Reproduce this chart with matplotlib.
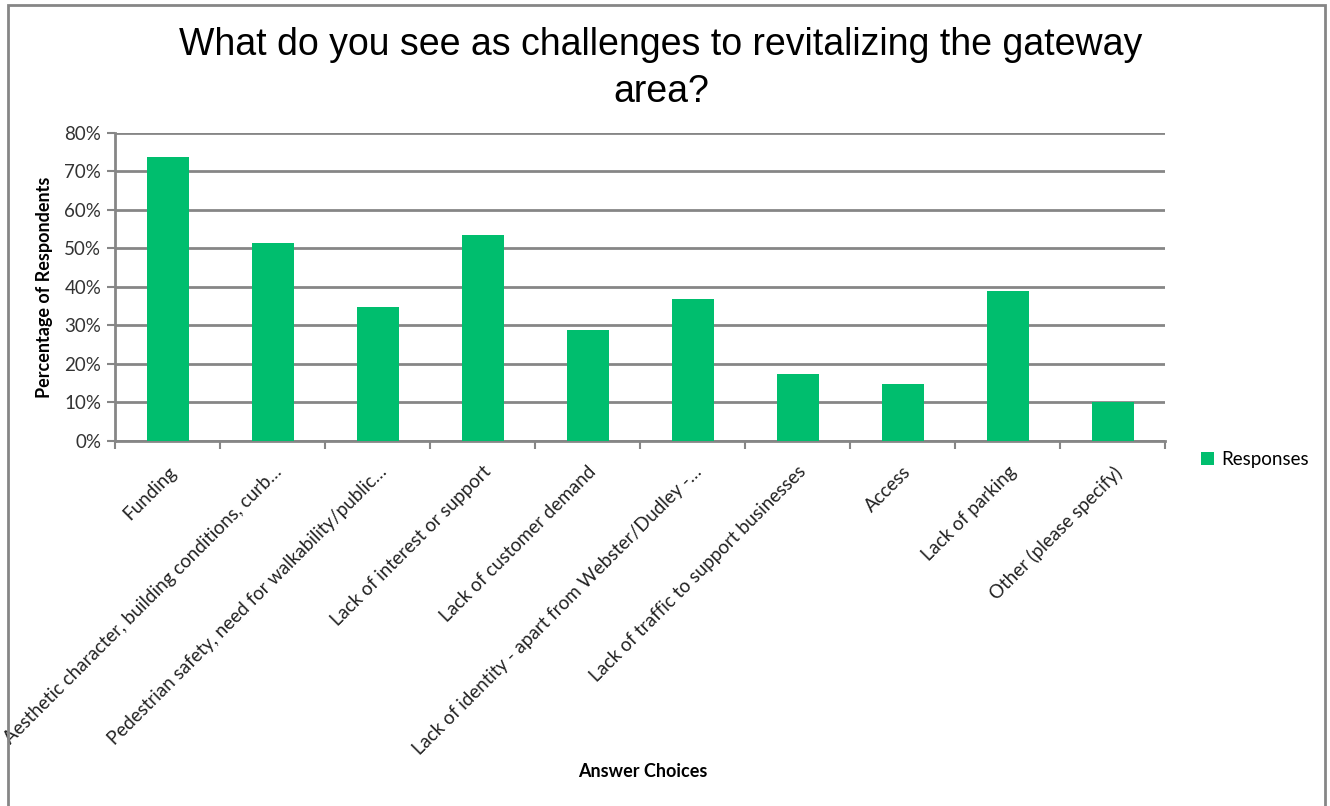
import matplotlib
matplotlib.use("Agg")
import matplotlib.pyplot as plt
import numpy as np
from matplotlib.patches import Rectangle
from matplotlib.ticker import PercentFormatter

categories = [
    "Funding",
    "Aesthetic character, building conditions, curb…",
    "Pedestrian safety, need for walkability/public…",
    "Lack of interest or support",
    "Lack of customer demand",
    "Lack of identity - apart from Webster/Dudley -…",
    "Lack of traffic to support businesses",
    "Access",
    "Lack of parking",
    "Other (please specify)",
]
responses = [73.8, 51.5, 34.8, 53.6, 28.8, 36.9, 17.5, 14.9, 39.0, 10.0]
y_ticks = [0, 10, 20, 30, 40, 50, 60, 70, 80]

green = "#00BE6E"
grey = "#868686"
label_font = ["Lato", "DejaVu Sans"]

fig = plt.figure(figsize=(13.3, 8.06), dpi=100)
ax = fig.add_axes([0.0865, 0.4529, 0.7895, 0.3821])

x = np.arange(len(categories))
ax.bar(x, responses, width=0.4, color=green, label="Responses", zorder=3)

ax.set_xlim(-0.5, len(categories) - 0.5)
ax.set_ylim(0, 80)
ax.set_yticks(y_ticks)
ax.yaxis.set_major_formatter(PercentFormatter(decimals=0))
ax.grid(axis="y", color=grey, linewidth=2, zorder=0)

ax.set_xticks(x)
ax.set_xticklabels(categories, rotation=45, ha="right", rotation_mode="anchor",
                   family=label_font, fontsize=13.5, color="#222222")
ax.set_xticks(np.arange(-0.5, len(categories)), minor=True)
ax.tick_params(axis="x", which="major", length=0, pad=16)
ax.tick_params(axis="x", which="minor", length=6, width=1.5, color=grey)
ax.tick_params(axis="y", length=6, width=1.5, color=grey, pad=4)
for t in ax.get_yticklabels():
    t.set_family(label_font)
    t.set_fontsize(13.5)
    t.set_color("#333333")

for s in ["top", "right"]:
    ax.spines[s].set_visible(False)
for s in ["left", "bottom"]:
    ax.spines[s].set_color(grey)
    ax.spines[s].set_linewidth(2)

ax.set_ylabel("Percentage of Respondents", family=label_font, fontsize=13,
              fontweight="bold", labelpad=8)
fig.text(0.4835, 0.043, "Answer Choices", family=label_font, fontsize=13,
         fontweight="bold", ha="center", va="center")

fig.text(0.497, 0.915, "What do you see as challenges to revitalizing the gateway\narea?",
         family=["Liberation Sans", "DejaVu Sans"],
         fontsize=27, ha="center", va="center", linespacing=1.4)

leg = fig.legend(loc="center left", bbox_to_anchor=(0.89, 0.43), frameon=False,
                 prop={"family": label_font, "size": 13.5},
                 handlelength=0.7, handleheight=0.7, handletextpad=0.4)

fig.patches.append(Rectangle((0.006, -0.01), 0.99, 1.004, transform=fig.transFigure,
                             fill=False, edgecolor=grey, linewidth=2))

fig.savefig("out.png", dpi=100)
